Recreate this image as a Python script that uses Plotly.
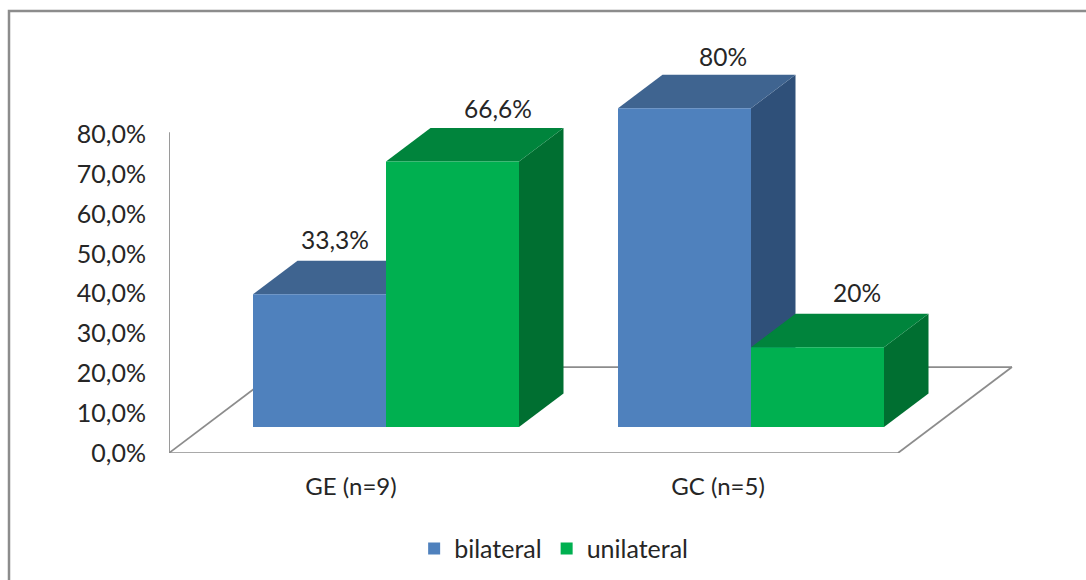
import plotly.graph_objects as go

# Chart data
categories = ["GE (n=9)", "GC (n=5)"]
bilateral = [33.3, 80]
unilateral = [66.6, 20]
y_ticks = [0, 10, 20, 30, 40, 50, 60, 70, 80]

# Palette
BLUE, BLUE_TOP, BLUE_SIDE = "#4f81bd", "#3f6490", "#2f5079"
GREEN, GREEN_TOP, GREEN_SIDE = "#00b050", "#00843c", "#006f31"
FRAME = "#8c8c8c"
TEXT = "#262626"
FONT = "Lato"

# Pixel scale of the drawing, used to express the oblique projection in axis units
PX_PER_PERCENT = 3.985
PX_PER_CATEGORY = 365.0
PLOT_LEFT, PLOT_RIGHT, PLOT_TOP, PLOT_BOTTOM = 169, 1030, 30, 453
FIRST_CENTER_PX = 386

x_range = [(PLOT_LEFT - FIRST_CENTER_PX) / PX_PER_CATEGORY,
           (PLOT_RIGHT - FIRST_CENTER_PX) / PX_PER_CATEGORY]
y_range = [0, (PLOT_BOTTOM - PLOT_TOP) / PX_PER_PERCENT]

bar_w = 133 / PX_PER_CATEGORY
depth_x = 44.5 / PX_PER_CATEGORY
depth_y = 33.5 / PX_PER_PERCENT
floor_front = 26 / PX_PER_PERCENT          # bars stand this far in front of the wall
floor_dx = 114 / PX_PER_CATEGORY
floor_dy = 86 / PX_PER_PERCENT
floor_x0 = x_range[0]
floor_x1 = (898 - FIRST_CENTER_PX) / PX_PER_CATEGORY
label_x = [(351 - 386) / PX_PER_CATEGORY, 1 + (718 - 751) / PX_PER_CATEGORY]


def polygon(points, fill):
    path = "M " + " L ".join(f"{x},{y}" for x, y in points) + " Z"
    return dict(type="path", path=path, xref="x", yref="y", layer="below",
                fillcolor=fill, line=dict(width=0))


def segment(x0, y0, x1, y1):
    return dict(type="line", x0=x0, y0=y0, x1=x1, y1=y1, xref="x", yref="y",
                layer="below", line=dict(color=FRAME, width=1.75))


def box_faces(left, value, top_color, side_color):
    """Top and right-hand faces of a bar; the front comes from the bar trace."""
    right = left + bar_w
    base = floor_front
    peak = base + value
    side = polygon([(right, base), (right + depth_x, base + depth_y),
                    (right + depth_x, peak + depth_y), (right, peak)], side_color)
    top = polygon([(left, peak), (left + depth_x, peak + depth_y),
                   (right + depth_x, peak + depth_y), (right, peak)], top_color)
    return [side, top]


# Wall edge and floor outline, then the bars back to front
shapes = [
    segment(floor_x0, 0, floor_x0, 80.5),
    segment(floor_x0, 0, floor_x1, 0),
    segment(floor_x0, 0, floor_x0 + floor_dx, floor_dy),
    segment(floor_x1, 0, floor_x1 + floor_dx, floor_dy),
    segment(floor_x0 + floor_dx, floor_dy, floor_x1 + floor_dx, floor_dy),
]
for i in range(len(categories)):
    shapes += box_faces(i - bar_w, bilateral[i], BLUE_TOP, BLUE_SIDE)
    shapes += box_faces(i, unilateral[i], GREEN_TOP, GREEN_SIDE)

# Panel frame: only its top and left edges fall inside the page
shapes.append(dict(type="rect", xref="paper", yref="paper", layer="below",
                   x0=(9 - PLOT_LEFT) / (PLOT_RIGHT - PLOT_LEFT),
                   x1=(1200 - PLOT_LEFT) / (PLOT_RIGHT - PLOT_LEFT),
                   y0=(PLOT_BOTTOM - 640) / (PLOT_BOTTOM - PLOT_TOP),
                   y1=(PLOT_BOTTOM - 11) / (PLOT_BOTTOM - PLOT_TOP),
                   line=dict(color=FRAME, width=2.5), fillcolor="rgba(0,0,0,0)"))

fig = go.Figure()
xs = list(range(len(categories)))
fig.add_bar(name="bilateral", x=[i - bar_w / 2 for i in xs], y=bilateral, base=floor_front,
            width=bar_w, marker=dict(color=BLUE, line=dict(width=0)), hoverinfo="skip")
fig.add_bar(name="unilateral", x=[i + bar_w / 2 for i in xs], y=unilateral, base=floor_front,
            width=bar_w, marker=dict(color=GREEN, line=dict(width=0)), hoverinfo="skip")


def pct_text(v):
    return f"{v}%".replace(".", ",")


annotations = []
shifts = [(15, 55), (45, 53), (38, 52), (39, 55)]
marks = [(0 - bar_w / 2, bilateral[0]), (bar_w / 2, unilateral[0]),
         (1 - bar_w / 2, bilateral[1]), (1 + bar_w / 2, unilateral[1])]
for (x, v), (sx, sy) in zip(marks, shifts):
    annotations.append(dict(x=x, y=floor_front + v, xref="x", yref="y", text=pct_text(v),
                            showarrow=False, xshift=sx, yshift=sy,
                            font=dict(family=FONT, size=24.5, color=TEXT)))

fig.update_layout(
    width=1086, height=580, autosize=False,
    barmode="overlay",
    paper_bgcolor="white", plot_bgcolor="rgba(0,0,0,0)",
    margin=dict(l=PLOT_LEFT, r=1086 - PLOT_RIGHT, t=PLOT_TOP, b=580 - PLOT_BOTTOM, pad=0),
    shapes=shapes,
    annotations=annotations,
    showlegend=True,
    legend=dict(orientation="h", x=0.5098, xanchor="center", xref="container",
                y=0.054, yanchor="middle", yref="container",
                font=dict(family=FONT, size=25, color=TEXT),
                bgcolor="rgba(0,0,0,0)", traceorder="normal"),
    xaxis=dict(range=x_range, tickmode="array", tickvals=label_x, ticktext=categories,
               showgrid=False, zeroline=False, showline=False, ticks="", ticklen=0,
               ticklabelstandoff=17,
               tickfont=dict(family=FONT, size=24, color=TEXT)),
    yaxis=dict(range=y_range, tickmode="array", tickvals=y_ticks,
               ticktext=[f"{t},0%" for t in y_ticks],
               showgrid=False, zeroline=False, showline=False, ticks="",
               ticklabelstandoff=22,
               tickfont=dict(family=FONT, size=25, color=TEXT)),
)

fig.write_html("out.html")
